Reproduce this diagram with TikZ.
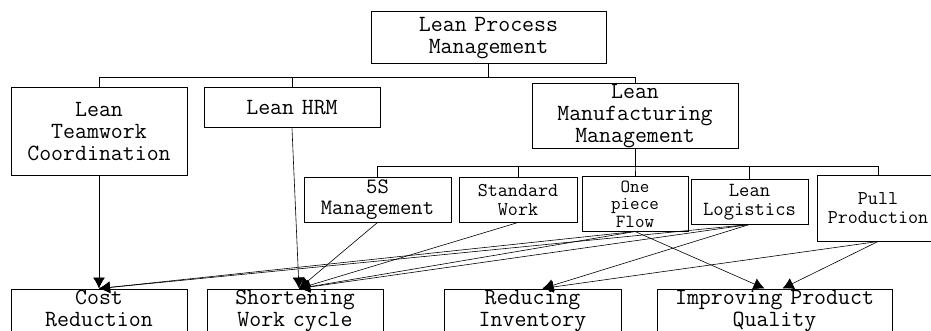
\documentclass[tikz,border=0pt]{standalone}
\usepackage{tikz}
\usetikzlibrary{shapes,arrows.meta,positioning}
\tikzstyle{line} = [draw, line width=0.6pt, -{Latex[length=11pt,width=12pt]}]
\tikzstyle{tree} = [draw, line width=0.9pt]
\tikzstyle{box} = [rectangle, draw, line width=1pt, inner sep=0pt, text centered, font=\ttfamily\fontsize{23.2}{22}\selectfont]
\tikzstyle{sub} = [box, font=\ttfamily\fontsize{19.5}{19}\selectfont]
\tikzstyle{outcome} = [box, text height=14.5pt, text depth=26.5pt, minimum height=43pt]

\begin{document}
\begin{tikzpicture}
		\path [use as bounding box] (0,0) rectangle (931pt,-331pt);
		\clip (0,0) rectangle (931pt,-331pt);
		\node [box, text width=235pt, minimum height=52pt] (top) at (488.5pt,-38pt) {Lean Process\\Management};
		\node [box, below of=top, node distance=94pt, xshift=-389.5pt, text width=176pt, minimum height=88pt] (teamwork) {Lean\\Teamwork\\Coordination};
		\node [box, right of=teamwork, node distance=193pt, yshift=24pt, text width=176pt, minimum height=40pt] (hrm) {Lean HRM};
		\node [box, below of=top, node distance=78.5pt, xshift=146.5pt, text width=206pt, minimum height=65pt] (manuf) {Lean\\Manufacturing\\Management};
		
		\node [sub, below of=manuf, node distance=87.5pt, text width=106pt, minimum height=54pt, font=\ttfamily\fontsize{18.5}{17.5}\selectfont] (onepiece) {One\\piece\\Flow};
		\node [sub, left of=onepiece, node distance=117pt, yshift=4pt, text width=118pt, minimum height=44pt] (standard) {Standard\\Work};
		\node [box, left of=standard, node distance=140.5pt, text width=147pt, minimum height=44pt, font=\ttfamily\fontsize{22}{21}\selectfont] (fives) {5S\\Management};
		\node [sub, right of=onepiece, node distance=114.5pt, yshift=2pt, text width=117pt, minimum height=44pt, font=\ttfamily\fontsize{20}{19}\selectfont] (logistics) {Lean\\Logistics};
		\node [sub, right of=logistics, node distance=130.5pt, yshift=-6.5pt, text width=122pt, minimum height=65pt, xshift=-2pt] (pull) {Pull\\Production};
		
		\node [outcome, below of=teamwork, node distance=178.5pt, text width=176pt] (cost) {Cost\\Reduction};
		\node [outcome, right of=cost, node distance=196pt, text width=176pt] (shortening) {Shortening\\Work cycle};
		\node [outcome, right of=shortening, node distance=237.5pt, text width=177pt] (reducing) {Reducing\\Inventory};
		\node [outcome, right of=reducing, node distance=242pt, text width=235pt] (improving) {Improving Product\\Quality};
		
		\draw [tree] (top.south) -- ++(0,-13pt) -| (teamwork.north);
		\draw [tree] (top.south) -- ++(0,-13pt) -| (hrm.north);
		\draw [tree] (top.south) -- ++(0,-13pt) -| (manuf.north);
		\draw [tree] (manuf.south) -- ++(0,-17pt) -| (fives.north);
		\draw [tree] (manuf.south) -- ++(0,-17pt) -| (standard.north);
		\draw [tree] (manuf.south) -- ++(0,-17pt) -| (onepiece.north);
		\draw [tree] (manuf.south) -- ++(0,-17pt) -| (logistics.north);
		\draw [tree] (manuf.south) -- ++(0,-17pt) -| (pull.north);
		
		\path [line] (teamwork.south) to (cost.north);
		\path [line] (hrm.south) to ([xshift=4pt]shortening.north);
		\path [line] (fives.south) to ([xshift=4pt]shortening.north);
		\path [line] (standard.south) to ([xshift=4pt]shortening.north);
		\path [line] (onepiece.south) to (cost.north);
		\path [line] (onepiece.south) to ([xshift=4pt]shortening.north);
		\path [line] (onepiece.south) to ([xshift=-10pt]improving.north);
		\path [line] (logistics.south) to (cost.north);
		\path [line] (logistics.south) to ([xshift=4pt]shortening.north);
		\path [line] (logistics.south) to ([xshift=10pt]reducing.north);
		\path [line] (pull.south) to ([xshift=10pt]reducing.north);
		\path [line] (pull.south) to ([xshift=8pt]improving.north);
		
	\end{tikzpicture}
\end{document}
